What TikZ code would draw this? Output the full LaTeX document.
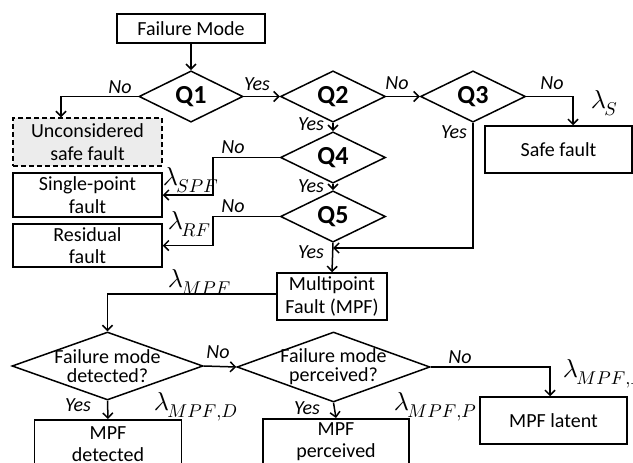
\documentclass[tikz,border=0pt]{standalone}
\usepackage{graphicx}
\usepackage{fontspec}
\setmainfont{Carlito}
\usetikzlibrary{shapes.geometric,arrows.meta}
\newcommand\lamb[1]{\scalebox{2.6}{$\lambda$}\kern-1.5pt\raisebox{-7pt}{\scalebox{1.85}{$#1$}}}
\begin{document}
\begin{tikzpicture}[x=1pt,y=-1pt,line width=1.5pt,
  box/.style={draw, rectangle, inner sep=0pt, font=\fontsize{20}{22.5}\selectfont, align=center},
  dia/.style={draw, diamond, inner sep=0pt, font=\fontsize{26}{26}\selectfont\bfseries},
  dtext/.style={inner sep=0pt, align=center, font=\fontsize{20}{19}\selectfont},
  lbl/.style={font=\fontsize{20}{20}\selectfont\itshape, inner sep=0pt},
  lam/.style={anchor=base west, inner sep=0pt},
  arr/.style={-{Straight Barb[length=5pt,width=10pt]}}]
\useasboundingbox (0,0) rectangle (633,463);
\clip (0,0) rectangle (633,463);
% boxes
\node[box, minimum width=148, minimum height=29] (fm) at (191,28.5) {Failure Mode};
\node[dia, minimum width=104, minimum height=41] (q1) at (191,96.5) {Q1};
\node[dia, minimum width=105, minimum height=41] (q2) at (333,96.5) {Q2};
\node[dia, minimum width=105, minimum height=41] (q3) at (473,96.5) {Q3};
\node[dia, minimum width=105, minimum height=41] (q4) at (333,157.5) {Q4};
\node[dia, minimum width=105, minimum height=42] (q5) at (333,216.5) {Q5};
\node[box, dash pattern=on 5pt off 3pt, fill=gray!15, minimum width=149, minimum height=48] (usf) at (87.5,142) {Unconsidered\\safe fault};
\node[box, minimum width=149, minimum height=44] (spf) at (87.5,195) {Single-point\\fault};
\node[box, minimum width=149, minimum height=43] (rf) at (87.5,245.5) {Residual\\fault};
\node[box, minimum width=147, minimum height=47] (sf) at (558.5,149.5) {Safe fault};
\node[box, minimum width=110, minimum height=47] (mpf) at (332,296.5) {Multipoint\\Fault (MPF)};
\node[dia, minimum width=191, minimum height=68] (fd) at (107.5,366) {};
\node[dtext] (fdt) at (fd.center) {Failure mode\\detected?};
\node[dia, minimum width=193, minimum height=70] (fp) at (333.5,367) {};
\node[dtext] (fpt) at (fp.center) {Failure mode\\perceived?};
\node[box, minimum width=147, minimum height=47] (lat) at (553.5,420.5) {MPF latent};
\node[box, anchor=north, minimum width=147, minimum height=49] (det) at (108,419) {MPF\\detected};
\node[box, anchor=north, minimum width=146, minimum height=46] (per) at (336,418) {MPF\\perceived};
\coordinate (j) at (333,248);
% connectors
\draw[arr] (fm.south) -- (q1.north);
\draw[arr] (q1.west) -| ([xshift=-26.5pt]usf.north);
\draw[arr] (q1.east) -- (q2.west);
\draw[arr] (q2.east) -- (q3.west);
\draw[arr] (q3.east) -| ([xshift=14.5pt]sf.north);
\draw[arr] (q2.south) -- (q4.north);
\draw[arr] (q4.south) -- (q5.north);
\draw[arr] (q5.south) -- (mpf.north);
\draw[arr] (q4.west) -- ++(-67,0) |- (spf.east);
\draw[arr] (q5.west) -- ++(-67,0) |- (rf.east);
\draw[arr] (q3.south) |- (j);
\draw[arr] ([yshift=2.5pt]mpf.west) -| (fd.north);
\draw[arr] (fd.east) -- (fp.west);
\draw[arr] (fd.south) -- (det.north);
\draw[arr] (fp.south) -- (per.north);
\draw[arr] (fp.east) -| ([xshift=-3.5pt]lat.north);
% labels
\node[lbl] (n1) at (120,87) {No};
\node[lbl] (y1) at (257,84) {Yes};
\node[lbl] (n2) at (397,83) {No};
\node[lbl] (n3) at (552,83) {No};
\node[lbl] (y3) at (454,132) {Yes};
\node[lbl] (y2) at (311,124) {Yes};
\node[lbl] (n4) at (233,147) {No};
\node[lbl] (y4) at (311,186) {Yes};
\node[lbl] (n5) at (233,206) {No};
\node[lbl] (y5) at (311,252) {Yes};
\node[lbl] (n6) at (218,352) {No};
\node[lbl] (n7) at (460,357) {No};
\node[lbl] (y6) at (78,405) {Yes};
\node[lbl] (y7) at (307,408) {Yes};
% lambdas
\node[lam] (ls) at (590,108) {\lamb{S}};
\node[lam] (lspf) at (162,185) {\lamb{SPF}};
\node[lam] (lrf) at (167,229) {\lamb{RF}};
\node[lam] (lmpf) at (167,287) {\lamb{MPF}};
\node[lam] (lmd) at (153,410) {\lamb{MPF{,}D}};
\node[lam] (lmp) at (393,410) {\lamb{MPF{,}P}};
\node[lam] (lml) at (562,377) {\lamb{MPF{,}L}};
\end{tikzpicture}
\end{document}
